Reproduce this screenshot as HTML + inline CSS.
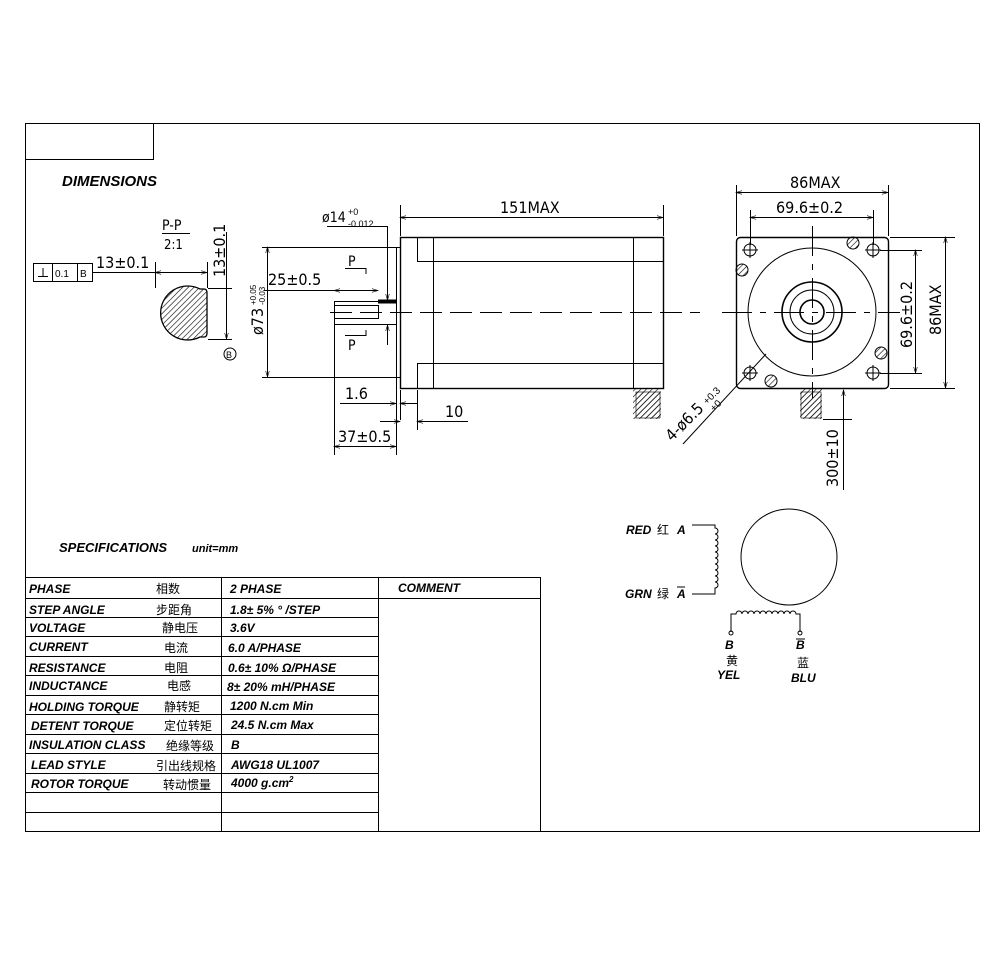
<!DOCTYPE html>
<html><head><meta charset="utf-8"><style>
html,body{margin:0;padding:0;background:#fff;}
svg{display:block;}
text{font-family:"Liberation Sans","Noto Sans CJK SC",sans-serif;fill:#000;}
.b{font-weight:bold;font-style:italic;font-size:12px;}
.c{font-size:12px;font-family:"Noto Sans CJK SC","WenQuanYi Zen Hei",sans-serif;}
.d{font-size:16px;font-family:"DejaVu Sans Condensed","Liberation Sans Narrow","Liberation Sans",sans-serif;}
</style></head><body>
<svg width="1008" height="957" viewBox="0 0 1008 957" xmlns="http://www.w3.org/2000/svg">
<defs>
<marker id="a" viewBox="0 0 10 10" refX="10" refY="5" markerWidth="8" markerHeight="6" orient="auto-start-reverse"><path d="M0,2 L10,5 L0,8" fill="none" stroke="#000" stroke-width="1"/></marker>
<pattern id="h" width="4" height="4" patternUnits="userSpaceOnUse" patternTransform="rotate(45)"><line x1="0" y1="0" x2="0" y2="4" stroke="#000" stroke-width="1.2"/></pattern>
</defs>
<g fill="none" stroke="#000" stroke-width="1">
<rect x="25.5" y="123.5" width="954" height="708"/>
<rect x="25.5" y="123.5" width="128" height="36"/>
<!-- left section -->
<rect x="33.5" y="263.5" width="59" height="18"/>
<line x1="52.5" y1="263" x2="52.5" y2="282"/><line x1="77.5" y1="263" x2="77.5" y2="282"/>
<line x1="38" y1="276.5" x2="48" y2="276.5"/><line x1="43" y1="268" x2="43" y2="276"/>
<line x1="92" y1="272.5" x2="155" y2="272.5"/>
<line x1="162" y1="233.5" x2="190" y2="233.5"/>
<line x1="155.5" y1="262" x2="155.5" y2="288"/><line x1="207.5" y1="262" x2="207.5" y2="288"/>
<line x1="155" y1="272.5" x2="207" y2="272.5" marker-start="url(#a)" marker-end="url(#a)"/>
<path d="M200,289 A27,27 0 1 0 200,337 L204,337 Q207,337 207,333 L207,293 Q207,289 204,289 Z" fill="url(#h)" stroke-width="1.3"/>
<line x1="208" y1="288.5" x2="232" y2="288.5"/><line x1="208" y1="339.5" x2="232" y2="339.5"/>
<line x1="226.5" y1="232" x2="226.5" y2="339" marker-end="url(#a)"/>
<circle cx="230" cy="354" r="6"/>
<!-- side view -->
<rect x="400.5" y="237.5" width="263" height="151" stroke-width="1.4"/>
<rect x="396.5" y="247.5" width="4" height="130"/>
<line x1="417.5" y1="237" x2="417.5" y2="261"/><line x1="417.5" y1="363" x2="417.5" y2="388"/>
<line x1="417" y1="261.5" x2="663" y2="261.5"/><line x1="417" y1="363.5" x2="663" y2="363.5"/>
<line x1="433.5" y1="237" x2="433.5" y2="388"/><line x1="633.5" y1="237" x2="633.5" y2="388"/>
<rect x="334.5" y="305.5" width="44" height="13"/>
<line x1="334" y1="301.5" x2="396" y2="301.5"/><line x1="334" y1="324.5" x2="396" y2="324.5"/>
<line x1="334.5" y1="301" x2="334.5" y2="325"/>
<rect x="378.5" y="300" width="18" height="3" fill="#000"/>
<line x1="330" y1="312.5" x2="700" y2="312.5" stroke-dasharray="22,8"/>
<rect x="633" y="389" width="28" height="30" fill="url(#h)" stroke="none"/>
<line x1="262" y1="247.5" x2="396" y2="247.5"/><line x1="262" y1="377.5" x2="396" y2="377.5"/>
<line x1="267.5" y1="247" x2="267.5" y2="377" marker-start="url(#a)" marker-end="url(#a)"/>
<line x1="334" y1="290.5" x2="378" y2="290.5" marker-start="url(#a)" marker-end="url(#a)"/>
<line x1="264" y1="290.5" x2="334" y2="290.5"/>
<line x1="327" y1="226.5" x2="387" y2="226.5"/><line x1="387.5" y1="226" x2="387.5" y2="300" marker-end="url(#a)"/>
<line x1="387.5" y1="325" x2="387.5" y2="345" marker-start="url(#a)"/>
<path d="M345,268.5 L366,268.5 L366,274"/><path d="M345,335.5 L366,335.5 L366,330"/>
<line x1="400.5" y1="205" x2="400.5" y2="236"/><line x1="663.5" y1="205" x2="663.5" y2="236"/>
<line x1="400" y1="217.5" x2="663" y2="217.5" marker-start="url(#a)" marker-end="url(#a)"/>
<line x1="334.5" y1="325" x2="334.5" y2="455"/><line x1="396.5" y1="378" x2="396.5" y2="455"/>
<line x1="400.5" y1="390" x2="400.5" y2="420"/><line x1="417.5" y1="390" x2="417.5" y2="430"/>
<line x1="340" y1="403.5" x2="396" y2="403.5" marker-end="url(#a)"/><line x1="400" y1="403.5" x2="417" y2="403.5" marker-start="url(#a)"/>
<line x1="380" y1="421.5" x2="400" y2="421.5" marker-end="url(#a)"/><line x1="417" y1="421.5" x2="468" y2="421.5" marker-start="url(#a)"/>
<line x1="334" y1="446.5" x2="396" y2="446.5" marker-start="url(#a)" marker-end="url(#a)"/>
<!-- front view -->
<rect x="736.5" y="237.5" width="152" height="151" rx="4" stroke-width="1.4"/>
<circle cx="812" cy="312" r="64"/>
<circle cx="812" cy="312" r="30" stroke-width="1.6"/>
<circle cx="812" cy="312" r="22"/>
<circle cx="812" cy="312" r="12" stroke-width="1.6"/>
<line x1="722" y1="312.5" x2="900" y2="312.5" stroke-dasharray="30,8,6,8"/>
<line x1="812.5" y1="226" x2="812.5" y2="398" stroke-dasharray="30,8,6,8"/>
<g><circle cx="750" cy="250" r="6"/><circle cx="873" cy="250" r="6"/><circle cx="750" cy="373" r="6"/><circle cx="873" cy="373" r="6"/>
<path d="M742,250h16M750,242v16M865,250h16M873,242v16M742,373h16M750,365v16M865,373h16M873,365v16"/></g>
<g fill="url(#h)"><circle cx="853" cy="243" r="6"/><circle cx="742" cy="270" r="6"/><circle cx="881" cy="353" r="6"/><circle cx="771" cy="381" r="6"/></g>
<rect x="800" y="389" width="22" height="30" fill="url(#h)" stroke="none"/>
<line x1="736.5" y1="185" x2="736.5" y2="236"/><line x1="888.5" y1="185" x2="888.5" y2="236"/>
<line x1="736" y1="192.5" x2="888" y2="192.5" marker-start="url(#a)" marker-end="url(#a)"/>
<line x1="750.5" y1="210" x2="750.5" y2="245"/><line x1="873.5" y1="210" x2="873.5" y2="245"/>
<line x1="750" y1="217.5" x2="873" y2="217.5" marker-start="url(#a)" marker-end="url(#a)"/>
<line x1="890" y1="237.5" x2="955" y2="237.5"/><line x1="890" y1="388.5" x2="955" y2="388.5"/>
<line x1="945.5" y1="237" x2="945.5" y2="388" marker-start="url(#a)" marker-end="url(#a)"/>
<line x1="880" y1="250.5" x2="922" y2="250.5"/><line x1="880" y1="373.5" x2="922" y2="373.5"/>
<line x1="915.5" y1="250" x2="915.5" y2="373" marker-start="url(#a)" marker-end="url(#a)"/>
<line x1="823" y1="419.5" x2="852" y2="419.5"/>
<line x1="843.5" y1="390" x2="843.5" y2="490" />
<line x1="843.5" y1="405" x2="843.5" y2="390" marker-end="url(#a)"/>
<line x1="683" y1="444" x2="766" y2="354"/>
<!-- wiring -->
<circle cx="789" cy="557" r="48"/>
<path d="M692,525 L715,525 L715,528 A3,3 0 1 1 715,534 A3,3 0 1 1 715,540 A3,3 0 1 1 715,546 A3,3 0 1 1 715,552 A3,3 0 1 1 715,558 A3,3 0 1 1 715,564 A3,3 0 1 1 715,570 A3,3 0 1 1 715,576 A3,3 0 1 1 715,582 A3,3 0 1 1 715,588 L715,594 L692,594"/>
<path d="M731,632 L731,614 L736,614 A3,3 0 1 1 742,614 A3,3 0 1 1 748,614 A3,3 0 1 1 754,614 A3,3 0 1 1 760,614 A3,3 0 1 1 766,614 A3,3 0 1 1 772,614 A3,3 0 1 1 778,614 A3,3 0 1 1 784,614 A3,3 0 1 1 790,614 A3,3 0 1 1 796,614 L800,614 L800,632"/>
<circle cx="731" cy="633" r="2"/><circle cx="800" cy="633" r="2"/>
<!-- table -->
<line x1="25" y1="577.5" x2="540" y2="577.5"/>
<line x1="221.5" y1="577" x2="221.5" y2="831"/><line x1="378.5" y1="577" x2="378.5" y2="831"/><line x1="540.5" y1="577" x2="540.5" y2="831"/>
<line x1="378" y1="598.5" x2="540" y2="598.5"/>
<path d="M25,598.5H378M25,617.5H378M25,636.5H378M25,656.5H378M25,675.5H378M25,695.5H378M25,714.5H378M25,734.5H378M25,753.5H378M25,773.5H378M25,792.5H378M25,812.5H378"/>
</g>
<g fill="url(#h)" stroke="#000" stroke-width="0.6"><rect x="636" y="392" width="24" height="26"/><rect x="801" y="392" width="20" height="26"/></g>
<!-- texts -->
<text x="62" y="186" class="b" style="font-size:15px">DIMENSIONS</text>
<text x="59" y="552" class="b" style="font-size:13px">SPECIFICATIONS</text>
<text x="192" y="552" class="b" style="font-size:11px">unit=mm</text>
<text x="162" y="230" class="d" style="font-size:14px">P-P</text>
<text x="164" y="249" class="d" style="font-size:13px">2:1</text>
<text x="96" y="268" class="d">13±0.1</text>
<text x="55" y="277" style="font-size:10px">0.1</text><text x="80" y="277" style="font-size:10px">B</text>
<text transform="translate(225,277) rotate(-90)" class="d">13±0.1</text>
<text x="226" y="358" style="font-size:9px">B</text>
<text x="322" y="222" class="d" style="font-size:14px">ø14</text><text x="348" y="215" style="font-size:9px">+0</text><text x="348" y="227" style="font-size:9px">-0.012</text>
<text x="500" y="213" class="d">151MAX</text>
<text x="268" y="285" class="d">25±0.5</text>
<text x="348" y="266" class="d" style="font-size:14px">P</text><text x="348" y="350" class="d" style="font-size:14px">P</text>
<text transform="translate(263,335) rotate(-90)" class="d">ø73</text>
<text transform="translate(256,305) rotate(-90)" style="font-size:8px">+0.05</text>
<text transform="translate(265,305) rotate(-90)" style="font-size:8px">-0.03</text>
<text x="345" y="399" class="d">1.6</text>
<text x="445" y="417" class="d">10</text>
<text x="338" y="442" class="d">37±0.5</text>
<text transform="translate(672,442) rotate(-45)" class="d">4-ø6.5</text>
<text transform="translate(707,405) rotate(-45)" style="font-size:10px">+0.3</text>
<text transform="translate(714,412) rotate(-45)" style="font-size:10px">+0</text>
<text x="790" y="188" class="d">86MAX</text>
<text x="776" y="213" class="d">69.6±0.2</text>
<text transform="translate(912,348) rotate(-90)" class="d">69.6±0.2</text>
<text transform="translate(941,335) rotate(-90)" class="d">86MAX</text>
<text transform="translate(838,487) rotate(-90)" class="d">300±10</text>
<text x="626" y="534" class="b">RED</text><text x="657" y="534" class="c">红</text><text x="677" y="534" class="b">A</text>
<text x="625" y="598" class="b">GRN</text><text x="657" y="598" class="c">绿</text><text x="677" y="598" class="b">A</text>
<line x1="677" y1="587" x2="685" y2="587" stroke="#000"/>
<text x="725" y="649" class="b">B</text><text x="796" y="649" class="b">B</text><line x1="796" y1="639" x2="805" y2="639" stroke="#000"/>
<text x="726" y="665" class="c">黄</text><text x="797" y="667" class="c">蓝</text>
<text x="717" y="679" class="b">YEL</text><text x="791" y="682" class="b">BLU</text>
<g class="b">
<text x="29" y="593" class="b">PHASE</text><text x="230" y="593" class="b">2  PHASE</text><text x="398" y="592" class="b">COMMENT</text>
<text x="29" y="614" class="b">STEP ANGLE</text><text x="230" y="614" class="b">1.8± 5% ° /STEP</text>
<text x="29" y="632" class="b">VOLTAGE</text><text x="230" y="632" class="b">3.6V</text>
<text x="29" y="651" class="b">CURRENT</text><text x="228" y="652" class="b">6.0 A/PHASE</text>
<text x="29" y="672" class="b">RESISTANCE</text><text x="228" y="672" class="b">0.6± 10%  Ω/PHASE</text>
<text x="29" y="690" class="b">INDUCTANCE</text><text x="227" y="691" class="b">8± 20% mH/PHASE</text>
<text x="29" y="711" class="b">HOLDING TORQUE</text><text x="230" y="710" class="b">1200  N.cm Min</text>
<text x="31" y="730" class="b">DETENT TORQUE</text><text x="231" y="729" class="b">24.5 N.cm Max</text>
<text x="29" y="749" class="b">INSULATION CLASS</text><text x="231" y="749" class="b">B</text>
<text x="31" y="769" class="b">LEAD STYLE</text><text x="231" y="769" class="b">AWG18 UL1007</text>
<text x="31" y="788" class="b">ROTOR TORQUE</text><text x="231" y="787" class="b">4000 g.cm<tspan dy="-5" font-size="8">2</tspan></text>
</g>
<text x="156" y="593" class="c">相数</text>
<text x="156" y="614" class="c">步距角</text>
<text x="162" y="632" class="c">静电压</text>
<text x="164" y="652" class="c">电流</text>
<text x="164" y="672" class="c">电阻</text>
<text x="167" y="690" class="c">电感</text>
<text x="164" y="711" class="c">静转矩</text>
<text x="164" y="730" class="c">定位转矩</text>
<text x="166" y="750" class="c">绝缘等级</text>
<text x="156" y="770" class="c">引出线规格</text>
<text x="163" y="789" class="c">转动惯量</text>
</svg>
</body></html>
